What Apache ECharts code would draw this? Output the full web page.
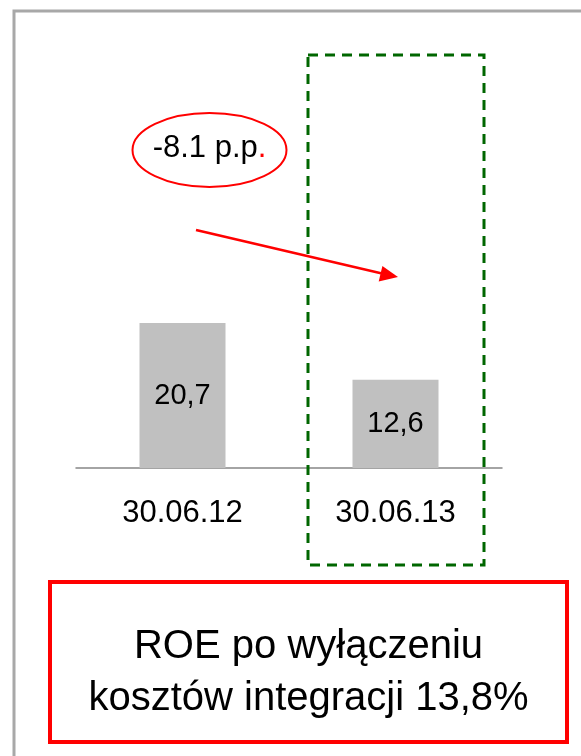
<!DOCTYPE html>
<html lang="pl">
<head>
  <meta charset="UTF-8">
  <title>ROE</title>
  <style>
    html, body { margin: 0; padding: 0; background: #fff; }
    #chart { width: 581px; height: 756px; }
  </style>
  <script src="https://cdn.jsdelivr.net/npm/echarts@6/dist/echarts.min.js"></script>
</head>
<body>
<div id="chart"></div>
<script>
  // dane
  var categories = ['30.06.12', '30.06.13'];
  var roeValues = [20.7, 12.6];
  var changeText = '-8.1 p.p';
  var noteLines = ['ROE po wyłączeniu', 'kosztów integracji 13,8%'];

  var FONT = 'Arial, "Liberation Sans", sans-serif';

  var chart = echarts.init(document.getElementById('chart'));

  var option = {
    backgroundColor: '#fff',
    animation: false,
    grid: { left: 76, right: 79, top: 258, bottom: 288 },
    xAxis: {
      type: 'category',
      data: categories,
      axisLine: { lineStyle: { color: '#878787', width: 1.5 } },
      axisTick: { show: false },
      axisLabel: {
        color: '#000', fontFamily: FONT, fontSize: 31,
        lineHeight: 31, margin: 30
      }
    },
    yAxis: {
      type: 'value', min: 0, max: 30,
      show: false, splitLine: { show: false }
    },
    series: [{
      type: 'bar',
      data: roeValues,
      barWidth: 86,
      itemStyle: { color: '#c0c0c0' },
      label: {
        show: true, position: 'inside', color: '#000',
        fontFamily: FONT, fontSize: 29,
        formatter: function (p) { return String(p.value).replace('.', ','); }
      }
    }],
    graphic: [
      // szara ramka
      { type: 'rect', shape: { x: 14, y: 11, width: 620, height: 800 },
        style: { fill: 'none', stroke: '#a8a8a8', lineWidth: 3 }, silent: true },
      // zielona przerywana ramka
      { type: 'rect', shape: { x: 308, y: 55, width: 176, height: 510 },
        style: { fill: 'none', stroke: '#006600', lineWidth: 3, lineDash: [10, 7] }, z: 10 },
      // elipsa z różnicą
      { type: 'ellipse', shape: { cx: 209.5, cy: 150, rx: 77, ry: 37 },
        style: { fill: 'none', stroke: '#ff0000', lineWidth: 2 } },
      { type: 'text', x: 209.5, y: 148,
        style: {
          text: '{a|' + changeText + '}{b|.}', align: 'center', verticalAlign: 'middle',
          rich: {
            a: { fontFamily: FONT, fontSize: 31, fill: '#000' },
            b: { fontFamily: FONT, fontSize: 31, fill: '#ff0000' }
          }
        } },
      // strzałka
      { type: 'line', shape: { x1: 196, y1: 230, x2: 382, y2: 273.5 },
        style: { stroke: '#ff0000', lineWidth: 2.5 }, z: 11 },
      { type: 'polygon', shape: { points: [[398, 277], [378.7, 281.5], [382.4, 265.9]] },
        style: { fill: '#ff0000' }, z: 11 },
      // czerwone pole z opisem
      { type: 'rect', shape: { x: 50, y: 582, width: 517, height: 160 },
        style: { fill: '#fff', stroke: '#ff0000', lineWidth: 4 } },
      { type: 'text', x: 308.5, y: 673,
        style: {
          text: noteLines.join('\n'), align: 'center', verticalAlign: 'middle',
          fontFamily: FONT, fontSize: 40, lineHeight: 52, fill: '#000'
        } }
    ]
  };

  chart.setOption(option);
</script>
</body>
</html>
